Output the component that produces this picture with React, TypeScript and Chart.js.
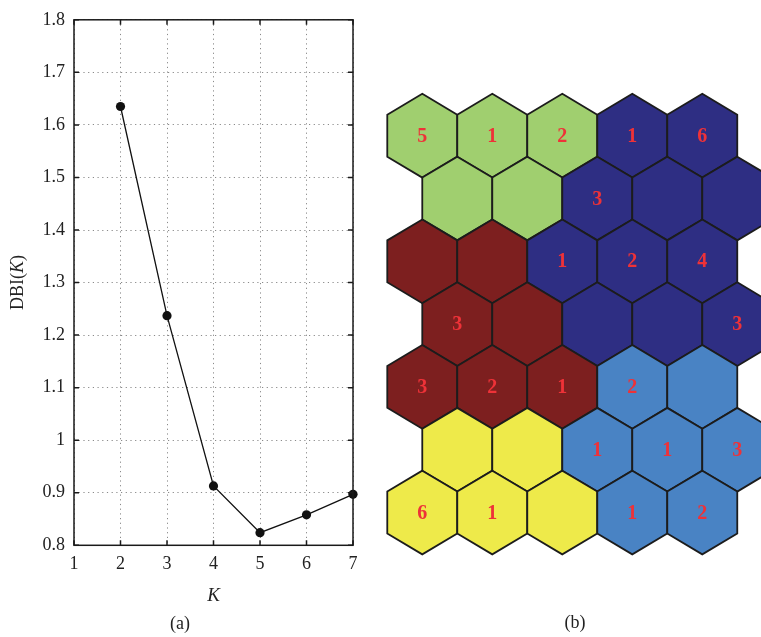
import React, { useEffect, useRef } from 'react';
import { Chart, registerables } from 'chart.js';

Chart.register(...registerables);

// ---------- Data: panel (a) ----------
const kValues = [2, 3, 4, 5, 6, 7];
const dbiValues = [1.635, 1.237, 0.913, 0.824, 0.858, 0.897];
const xTickValues = [1, 2, 3, 4, 5, 6, 7];
const yTickValues = [0.8, 0.9, 1.0, 1.1, 1.2, 1.3, 1.4, 1.5, 1.6, 1.7, 1.8];

// ---------- Data: panel (b) (SOM hex map, rows top to bottom) ----------
const hexClusters = [
  ['G', 'G', 'G', 'N', 'N'],
  ['G', 'G', 'N', 'N', 'N'],
  ['R', 'R', 'N', 'N', 'N'],
  ['R', 'R', 'N', 'N', 'N'],
  ['R', 'R', 'R', 'B', 'B'],
  ['Y', 'Y', 'B', 'B', 'B'],
  ['Y', 'Y', 'Y', 'B', 'B'],
];
const hexLabels = [
  ['5', '1', '2', '1', '6'],
  ['', '', '3', '', ''],
  ['', '', '1', '2', '4'],
  ['3', '', '', '', '3'],
  ['3', '2', '1', '2', ''],
  ['', '', '1', '1', '3'],
  ['6', '1', '', '1', '2'],
];
const clusterColors: Record<string, string> = {
  G: '#A0CF6F',
  N: '#2E2E83',
  R: '#7D1F1F',
  B: '#4983C4',
  Y: '#EEEA4A',
};

const SERIF = '"Liberation Serif", "DejaVu Serif", "Times New Roman", serif';

function DbiChart() {
  const ref = useRef<HTMLCanvasElement>(null);
  useEffect(() => {
    if (!ref.current) return;
    const boxPlugin = {
      id: 'boxPlugin',
      afterDraw(chart: any) {
        const { ctx, chartArea: a, scales } = chart;
        ctx.save();
        ctx.strokeStyle = '#1a1a1a';
        ctx.lineWidth = 1.5;
        ctx.strokeRect(a.left, a.top, a.right - a.left, a.bottom - a.top);
        const t = 5;
        ctx.beginPath();
        xTickValues.forEach((v) => {
          const px = scales.x.getPixelForValue(v);
          ctx.moveTo(px, a.bottom);
          ctx.lineTo(px, a.bottom - t);
          ctx.moveTo(px, a.top);
          ctx.lineTo(px, a.top + t);
        });
        yTickValues.forEach((v) => {
          const py = scales.y.getPixelForValue(v);
          ctx.moveTo(a.left, py);
          ctx.lineTo(a.left + t, py);
          ctx.moveTo(a.right, py);
          ctx.lineTo(a.right - t, py);
        });
        ctx.stroke();

        // y-axis title: DBI(K) with italic K
        ctx.fillStyle = '#222';
        ctx.textBaseline = 'middle';
        ctx.textAlign = 'left';
        const parts = [
          { s: 'DBI(', f: `18px ${SERIF}` },
          { s: 'K', f: `italic 18px ${SERIF}` },
          { s: ')', f: `18px ${SERIF}` },
        ];
        let total = 0;
        parts.forEach((p) => {
          ctx.font = p.f;
          total += ctx.measureText(p.s).width;
        });
        ctx.translate(18, (a.top + a.bottom) / 2);
        ctx.rotate(-Math.PI / 2);
        let xo = -total / 2;
        parts.forEach((p) => {
          ctx.font = p.f;
          ctx.fillText(p.s, xo, 0);
          xo += ctx.measureText(p.s).width;
        });
        ctx.restore();

        // caption
        ctx.save();
        ctx.fillStyle = '#222';
        ctx.font = `18px ${SERIF}`;
        ctx.textAlign = 'center';
        ctx.textBaseline = 'middle';
        ctx.fillText('(a)', 180, 624);
        ctx.restore();
      },
    };

    const chart = new Chart(ref.current, {
      type: 'scatter',
      data: {
        datasets: [
          {
            data: kValues.map((k, i) => ({ x: k, y: dbiValues[i] })),
            showLine: true,
            borderColor: '#111',
            borderWidth: 1.3,
            backgroundColor: '#111',
            pointBackgroundColor: '#111',
            pointBorderColor: '#111',
            pointRadius: 4.6,
            pointBorderWidth: 0,
            clip: false as any,
          },
        ],
      },
      options: {
        animation: false,
        responsive: false,
        layout: { padding: { top: 15, right: 27, left: 0, bottom: 0 } },
        plugins: { legend: { display: false }, tooltip: { enabled: false } },
        scales: {
          x: {
            type: 'linear',
            min: 1,
            max: 7,
            afterBuildTicks: (s: any) => {
              s.ticks = xTickValues.map((v) => ({ value: v }));
            },
            afterFit: (s: any) => {
              s.height = 91.7;
            },
            grid: { color: '#8a8a8a', lineWidth: 1, drawTicks: false },
            border: { display: false, dash: [1.2, 3.5] },
            ticks: {
              padding: 8,
              color: '#222',
              font: { family: SERIF, size: 18 },
              callback: (v: any) => String(v),
            },
            title: {
              display: true,
              text: 'K',
              color: '#222',
              font: { family: SERIF, size: 19, style: 'italic' },
              padding: { top: 0, bottom: 30 },
            },
          },
          y: {
            type: 'linear',
            min: 0.8,
            max: 1.8,
            afterBuildTicks: (s: any) => {
              s.ticks = yTickValues.map((v) => ({ value: v }));
            },
            afterFit: (s: any) => {
              s.width = 74;
            },
            grid: { color: '#8a8a8a', lineWidth: 1, drawTicks: false },
            border: { display: false, dash: [1.2, 3.5] },
            ticks: {
              padding: 9,
              color: '#222',
              font: { family: SERIF, size: 18 },
              callback: (v: any) => String(Math.round(Number(v) * 10) / 10),
            },
          },
        },
      } as any,
      plugins: [boxPlugin],
    });
    return () => chart.destroy();
  }, []);
  return (
    <canvas
      ref={ref}
      width={380}
      height={637}
      style={{ position: 'absolute', left: 0, top: 0, width: 380, height: 637 }}
    />
  );
}

function HexChart() {
  const ref = useRef<HTMLCanvasElement>(null);
  useEffect(() => {
    if (!ref.current) return;
    const points: { x: number; y: number; c: string; l: string }[] = [];
    hexClusters.forEach((row, r) =>
      row.forEach((c, i) => {
        points.push({ x: i + (r % 2 ? 0.5 : 0), y: r, c, l: hexLabels[r][i] });
      })
    );

    const hexPlugin = {
      id: 'hexPlugin',
      afterDatasetsDraw(chart: any) {
        const { ctx, scales } = chart;
        const xs = scales.x;
        const ys = scales.y;
        const meta = chart.getDatasetMeta(0);
        const hw = Math.abs(xs.getPixelForValue(0.5) - xs.getPixelForValue(0));
        const rv = (Math.abs(ys.getPixelForValue(1) - ys.getPixelForValue(0)) * 2) / 3;
        ctx.save();
        meta.data.forEach((el: any, i: number) => {
          const cx = el.x;
          const cy = el.y;
          ctx.beginPath();
          ctx.moveTo(cx, cy - rv);
          ctx.lineTo(cx + hw, cy - rv / 2);
          ctx.lineTo(cx + hw, cy + rv / 2);
          ctx.lineTo(cx, cy + rv);
          ctx.lineTo(cx - hw, cy + rv / 2);
          ctx.lineTo(cx - hw, cy - rv / 2);
          ctx.closePath();
          ctx.fillStyle = clusterColors[points[i].c];
          ctx.fill();
          ctx.strokeStyle = '#1c1c1c';
          ctx.lineWidth = 1.8;
          ctx.lineJoin = 'miter';
          ctx.stroke();
        });
        ctx.fillStyle = '#EE3238';
        ctx.font = `bold 20px ${SERIF}`;
        ctx.textAlign = 'center';
        ctx.textBaseline = 'middle';
        meta.data.forEach((el: any, i: number) => {
          if (points[i].l) ctx.fillText(points[i].l, el.x, el.y + 1);
        });
        ctx.fillStyle = '#222';
        ctx.font = `18px ${SERIF}`;
        ctx.fillText('(b)', 195, 623);
        ctx.restore();
      },
    };

    const chart = new Chart(ref.current, {
      type: 'scatter',
      data: {
        datasets: [
          {
            data: points.map((p) => ({ x: p.x, y: p.y })),
            pointRadius: 0,
            clip: false as any,
          },
        ],
      },
      options: {
        animation: false,
        responsive: false,
        layout: { padding: 0 },
        plugins: { legend: { display: false }, tooltip: { enabled: false } },
        scales: {
          x: { type: 'linear', display: false, min: -0.604, max: 4.839 },
          y: { type: 'linear', display: false, reverse: true, min: -2.161, max: 7.982 },
        },
      } as any,
      plugins: [hexPlugin],
    });
    return () => chart.destroy();
  }, []);
  return (
    <canvas
      ref={ref}
      width={381}
      height={637}
      style={{ position: 'absolute', left: 380, top: 0, width: 381, height: 637 }}
    />
  );
}

export default function App() {
  return (
    <div style={{ position: 'absolute', left: 0, top: 0, width: 761, height: 637, background: '#fff', overflow: 'hidden' }}>
      <DbiChart />
      <HexChart />
    </div>
  );
}
